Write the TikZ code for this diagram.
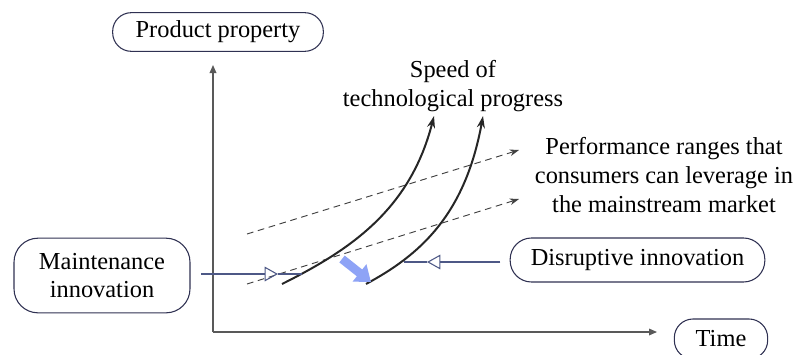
\documentclass[tikz,border=0pt]{standalone}
\usepackage{fontspec}
\setmainfont{Liberation Serif}
\usetikzlibrary{arrows.meta}
\definecolor{boxline}{HTML}{2F3152}
\definecolor{linkline}{HTML}{4D5886}
\definecolor{shiftblue}{HTML}{8EA3F6}

\begin{document}
\begin{tikzpicture}[x=0.75pt, y=-0.75pt,
  pill/.style={draw=boxline, line width=0.8pt, rounded corners=14pt,
               inner sep=0pt, font=\fontsize{18.3}{21.4}\selectfont, align=center},
  link/.style={linkline, line width=0.8pt},
  opentip/.style={-{Triangle[open, length=10pt, width=11pt]}},
  curve/.style={black!85, line width=1.5pt, -{Stealth[length=9pt, width=6pt]}},
  rangeline/.style={black!75, line width=0.7pt, dash pattern=on 5pt off 3.5pt,
                    -{Stealth[length=7pt, width=5pt]}},
  note/.style={font=\fontsize{18.3}{21.4}\selectfont, align=center}]
  \useasboundingbox (0,0) rectangle (795,354);
  % axes
  \coordinate (origin) at (213,332);
  \coordinate (ytop) at (213,65);
  \coordinate (xend) at (657,332);
  \draw[black!65, line width=0.9pt, -{Triangle[length=6pt, width=5pt]}] (origin) -- (ytop);
  \draw[black!65, line width=0.9pt, -{Triangle[length=6pt, width=5pt]}] (origin) -- (xend);
  % labelled boxes
  \node[pill, minimum width=158pt, minimum height=29pt] (prop) at (218,32) {Product property};
  \node[pill, minimum width=70pt, minimum height=30pt] (time) at (721,339) {Time};
  \node[pill, minimum width=132pt, minimum height=56pt, rounded corners=18pt]
    (maint) at (102,275.5) {Maintenance\\innovation};
  \node[pill, minimum width=191pt, minimum height=33pt, rounded corners=16pt]
    (disr) at (637.5,260) {Disruptive innovation};
  % consumer ranges
  \coordinate (ra0) at (247,234); \coordinate (ra1) at (519,150);
  \coordinate (rb0) at (247,284); \coordinate (rb1) at (519,199);
  \draw[rangeline] (ra0) -- (ra1);
  \draw[rangeline] (rb0) -- (rb1);
  % technology curves
  \coordinate (ca0) at (282,284); \coordinate (ca1) at (434,116);
  \coordinate (cb0) at (366,284); \coordinate (cb1) at (483,116);
  \draw[curve] (ca0) .. controls (350,250) and (410,210) .. (ca1);
  \draw[curve] (cb0) .. controls (420,255) and (465,215) .. (cb1);
  % pointers onto the curves
  \coordinate (tipa) at (278,274); \coordinate (hita) at (302,274);
  \coordinate (tipb) at (427,262); \coordinate (hitb) at (404,262);
  \draw[link, opentip, shorten <=8pt] (maint.east |- tipa) -- (tipa);
  \draw[link] (tipa) -- (hita);
  \draw[link, opentip, shorten <=7pt] (disr.west |- tipb) -- (tipb);
  \draw[link] (tipb) -- (hitb);
  % shift from the old curve to the new one
  \coordinate (sh0) at (342,259); \coordinate (sh1) at (371,282);
  \draw[shiftblue, line width=6.5pt, -{Triangle[length=11pt, width=16pt]}] (sh0) -- (sh1);
  % captions
  \node[note] (speed) at (453,86) {Speed of\\technological progress};
  \node[note] (perf) at (664,175) {Performance ranges that\\consumers can leverage in\\the mainstream market};
\end{tikzpicture}
\end{document}
